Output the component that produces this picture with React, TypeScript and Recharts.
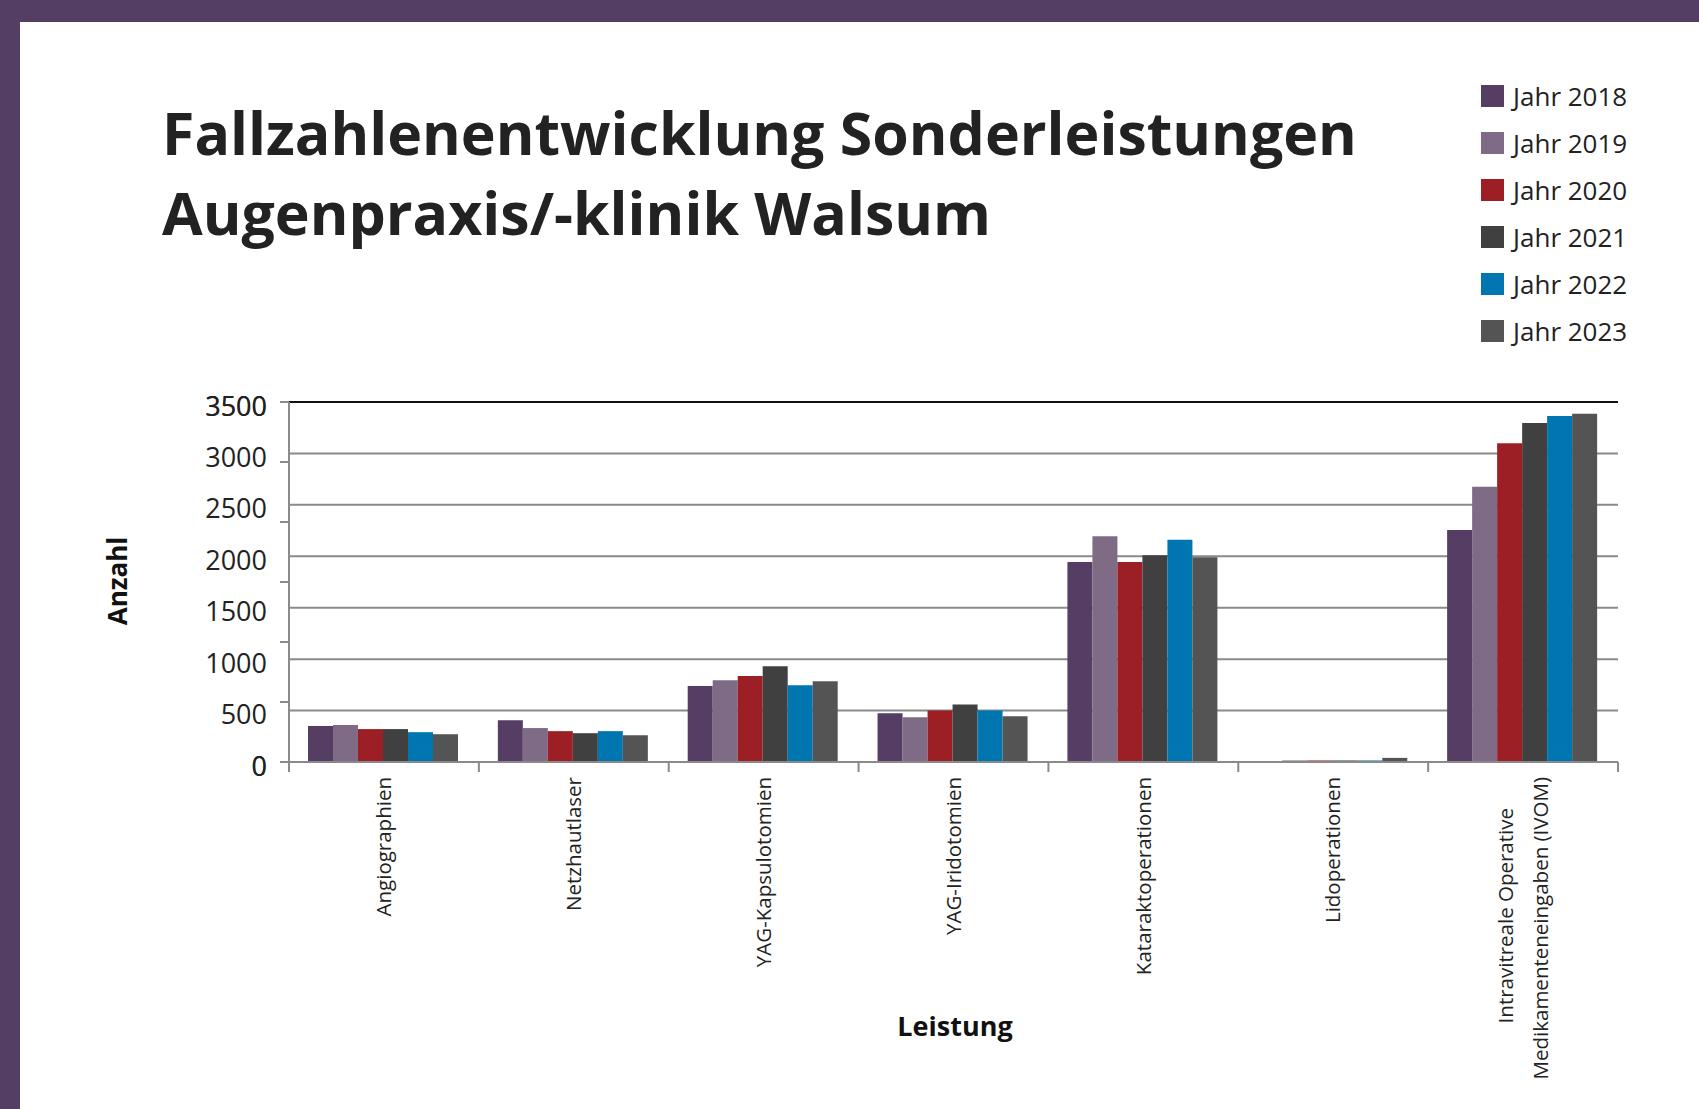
import { Bar, BarChart, CartesianGrid, Legend, ReferenceLine, XAxis, YAxis } from "recharts";

const categories = [
  "Angiographien",
  "Netzhautlaser",
  "YAG-Kapsulotomien",
  "YAG-Iridotomien",
  "Kataraktoperationen",
  "Lidoperationen",
  "Intravitreale Operative\nMedikamenteneingaben (IVOM)"
];

const jahr2018 = [350, 405, 740, 475, 1945, 4, 2255];
const jahr2019 = [360, 330, 795, 435, 2195, 15, 2675];
const jahr2020 = [320, 300, 835, 500, 1945, 15, 3100];
const jahr2021 = [320, 280, 930, 560, 2010, 15, 3295];
const jahr2022 = [290, 300, 745, 500, 2160, 15, 3365];
const jahr2023 = [270, 260, 785, 445, 1990, 40, 3385];

const yTicks = [0, 500, 1000, 1500, 2000, 2500, 3000, 3500];
const yTickMarks = [0, 583.33, 1166.67, 1750, 2333.33, 2916.67, 3500];
const gridValues = [500, 1000, 1500, 2000, 2500, 3000];

const series = [
  { key: "y2018", name: "Jahr 2018", color: "#553d63", values: jahr2018 },
  { key: "y2019", name: "Jahr 2019", color: "#806b87", values: jahr2019 },
  { key: "y2020", name: "Jahr 2020", color: "#9c1f25", values: jahr2020 },
  { key: "y2021", name: "Jahr 2021", color: "#404040", values: jahr2021 },
  { key: "y2022", name: "Jahr 2022", color: "#0076b1", values: jahr2022 },
  { key: "y2023", name: "Jahr 2023", color: "#545454", values: jahr2023 }
];

const data = categories.map((name, i) => {
  const row: Record<string, string | number> = { name };
  series.forEach((s) => {
    row[s.key] = s.values[i];
  });
  return row;
});

const FONT = "'Open Sans', 'Noto Sans', sans-serif";
const TEXT = "#222";
const AXIS = "#8a8a8a";
const Y_TICK_SIZE = 6;
const Y_TICK_MARGIN = 16;

function ValueTick(props: any) {
  const { x, y, payload } = props;
  const axisX = x + Y_TICK_SIZE + Y_TICK_MARGIN;
  const v = payload.value;
  return (
    <g>
      {yTickMarks.includes(v) && <line x1={axisX - 9} x2={axisX} y1={y} y2={y} stroke={AXIS} strokeWidth={2} />}
      {yTicks.includes(v) && (
        <text x={x} y={y} dy="0.5em" textAnchor="end" fill={TEXT} fontSize={27} fontFamily={FONT}>
          {v}
        </text>
      )}
    </g>
  );
}

function CategoryTick(props: any) {
  const { x, y, payload, index } = props;
  const half = typeof payload.offset === "number" && payload.offset > 0 ? payload.offset : 95;
  const axisY = y - 8;
  const top = axisY + 15;
  const lines = String(payload.value).split("\n");
  return (
    <g>
      <line x1={x - half} x2={x - half} y1={axisY} y2={axisY + 10} stroke={AXIS} strokeWidth={2} />
      {index === categories.length - 1 && (
        <line x1={x + half} x2={x + half} y1={axisY} y2={axisY + 10} stroke={AXIS} strokeWidth={2} />
      )}
      <g transform={`translate(${x},${top}) rotate(-90)`}>
        {lines.length === 1 ? (
          <text textAnchor="end" dy="0.35em" fill={TEXT} fontSize={20.5} fontFamily={FONT}>
            {lines[0]}
          </text>
        ) : (
          lines.map((line, i) => (
            <text
              key={i}
              x={i === lines.length - 1 ? 0 : -31}
              y={(i - (lines.length - 1) / 2) * 35}
              textAnchor="end"
              dy="0.35em"
              fill={TEXT}
              fontSize={20.5}
              fontFamily={FONT}
            >
              {line}
            </text>
          ))
        )}
      </g>
    </g>
  );
}

function LegendContent(props: any) {
  const { payload } = props;
  return (
    <div style={{ fontFamily: FONT }}>
      {(payload || []).map((entry: any) => (
        <div key={entry.value} style={{ display: "flex", alignItems: "center", height: 47 }}>
          <span style={{ width: 23, height: 22, background: entry.color, marginRight: 9, display: "inline-block" }} />
          <span style={{ fontSize: 26, color: TEXT }}>{entry.value}</span>
        </div>
      ))}
    </div>
  );
}

export default function App() {
  return (
    <div
      style={{
        position: "absolute",
        left: 0,
        top: 0,
        width: 1699,
        height: 1109,
        background: "#553e64",
        overflow: "hidden",
        fontFamily: FONT
      }}
    >
      <div style={{ position: "absolute", left: 20, top: 22, right: 0, bottom: 0, background: "#fff" }} />
      <div
        style={{
          position: "absolute",
          left: 162,
          top: 92,
          fontSize: 59,
          lineHeight: "80px",
          fontWeight: 700,
          color: TEXT,
          whiteSpace: "nowrap"
        }}
      >
        Fallzahlenentwicklung Sonderleistungen
        <br />
        Augenpraxis/-klinik Walsum
      </div>
      <div
        style={{
          position: "absolute",
          left: 117,
          top: 581,
          transform: "translate(-50%, -50%) rotate(-90deg)",
          fontSize: 26,
          fontWeight: 700,
          color: "#111"
        }}
      >
        Anzahl
      </div>
      <div
        style={{
          position: "absolute",
          left: 955,
          top: 1025,
          transform: "translate(-50%, -50%)",
          fontSize: 27,
          fontWeight: 700,
          color: "#111"
        }}
      >
        Leistung
      </div>
      <div style={{ position: "absolute", left: 0, top: 0 }}>
        <BarChart
          width={1699}
          height={1109}
          data={data}
          margin={{ top: 402, right: 81, left: 189, bottom: 17 }}
          barCategoryGap="10%"
          barGap={0}
        >
          <CartesianGrid
            yAxisId="vals"
            vertical={false}
            horizontalValues={gridValues}
            stroke={AXIS}
            strokeWidth={2}
          />
          <XAxis
            dataKey="name"
            interval={0}
            height={330}
            tickLine={false}
            axisLine={{ stroke: AXIS, strokeWidth: 2 }}
            tick={<CategoryTick />}
          />
          <YAxis
            yAxisId="vals"
            width={100}
            domain={[0, 3500]}
            ticks={[...yTicks, ...yTickMarks].sort((a, b) => a - b)}
            interval={0}
            tickSize={Y_TICK_SIZE}
            tickMargin={Y_TICK_MARGIN}
            tickLine={false}
            axisLine={{ stroke: AXIS, strokeWidth: 2 }}
            tick={<ValueTick />}
          />
          <ReferenceLine yAxisId="vals" y={3500} stroke="#111" strokeWidth={2} />
          <Legend
            layout="horizontal"
            verticalAlign="middle"
            align="center"
            content={<LegendContent />}
            wrapperStyle={{ position: "absolute", left: 1481, top: 72, width: 220 }}
          />
          {series.map((s) => (
            <Bar key={s.key} yAxisId="vals" dataKey={s.key} name={s.name} fill={s.color} isAnimationActive={false} />
          ))}
        </BarChart>
      </div>
    </div>
  );
}
